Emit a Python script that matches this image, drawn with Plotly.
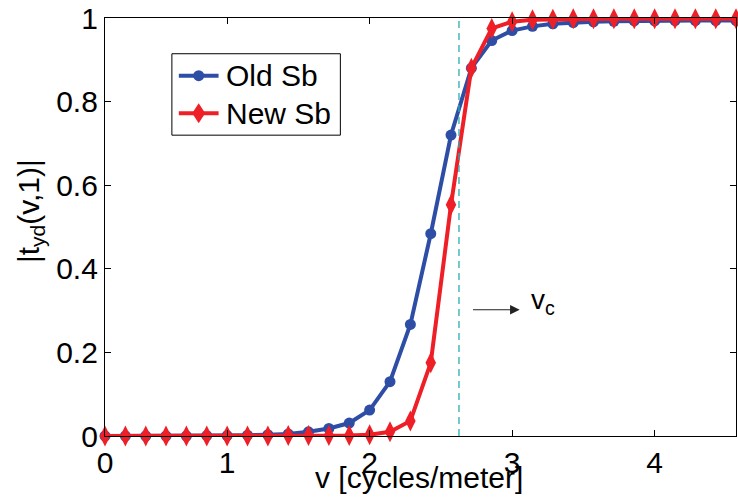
import plotly.graph_objects as go

# spatial frequency samples (cycles/meter)
freq = [0.143, 0.286, 0.429, 0.571, 0.714, 0.857, 1.0, 1.143, 1.286, 1.429,
        1.571, 1.714, 1.857, 2.0, 2.143, 2.286, 2.429, 2.571, 2.714, 2.857,
        3.0, 3.143, 3.286, 3.429, 3.571, 3.714, 3.857, 4.0, 4.143, 4.286,
        4.429, 4.571]

old_sb = [0.0, 0.0, 0.0, 0.0, 0.0, 0.001, 0.001, 0.002, 0.003, 0.005,
          0.010, 0.018, 0.031, 0.062, 0.130, 0.267, 0.484, 0.720, 0.880, 0.946,
          0.970, 0.980, 0.986, 0.989, 0.991, 0.992, 0.993, 0.993, 0.994, 0.994,
          0.994, 0.994]

new_sb = [0.0, 0.0, 0.0, 0.0, 0.0, 0.0, 0.0, 0.0, 0.0, 0.001,
          0.001, 0.001, 0.001, 0.003, 0.010, 0.036, 0.175, 0.553, 0.880, 0.975,
          0.991, 0.996, 0.997, 0.998, 0.998, 0.998, 0.998, 0.998, 0.998, 0.998,
          0.998, 0.998]

series_names = ["Old Sb", "New Sb"]

x_tick_vals = [0.143, 1, 2, 3, 4]
x_tick_text = ["0", "1", "2", "3", "4"]
y_tick_vals = [0, 0.2, 0.4, 0.6, 0.8, 1.0]
y_tick_text = ["0", "0.2", "0.4", "0.6", "0.8", "1"]

cutoff = 2.627          # v_c
arrow_from, arrow_to, arrow_y = 2.715, 3.053, 0.302

FONT = "Liberation Sans, Arial, Helvetica, sans-serif"
FS = 30
BLUE = "#2E4EA6"
RED = "#EE1F26"

fig = go.Figure()
fig.add_trace(go.Scatter(
    x=freq, y=old_sb, name=series_names[0], mode="lines+markers",
    line=dict(color=BLUE, width=4),
    marker=dict(symbol="circle", size=11, color=BLUE),
    cliponaxis=False, showlegend=False,
))
fig.add_trace(go.Scatter(
    x=freq, y=new_sb, name=series_names[1], mode="lines+markers",
    line=dict(color=RED, width=4),
    marker=dict(symbol="diamond-tall", size=15, color=RED),
    cliponaxis=False, showlegend=False,
))

# cutoff marker
fig.add_shape(type="line", x0=cutoff, x1=cutoff, y0=0, y1=1,
              xref="x", yref="y",
              line=dict(color="#28AEB2", width=1.3, dash="7px,5px"))

fig.add_annotation(x=arrow_to, y=arrow_y, ax=arrow_from, ay=arrow_y,
                   xref="x", yref="y", axref="x", ayref="y",
                   showarrow=True, arrowhead=2, arrowsize=1.6, arrowwidth=1.2,
                   arrowcolor="#222222", text="")
fig.add_annotation(x=3.12, y=0.322, xref="x", yref="y", xanchor="left",
                   yanchor="middle", showarrow=False,
                   text="v<sub>c</sub>", font=dict(family=FONT, size=28, color="black"))

# axis titles
fig.add_annotation(x=0.497, y=-0.1, xref="paper", yref="paper",
                   xanchor="center", yanchor="middle", showarrow=False,
                   text="v [cycles/meter]", font=dict(family=FONT, size=FS, color="black"))
fig.add_annotation(x=-0.118, y=0.537, xref="paper", yref="paper",
                   xanchor="center", yanchor="middle", showarrow=False, textangle=-90,
                   text="|t<sub>yd</sub>(v,1)|", font=dict(family=FONT, size=FS, color="black"))

# legend box with line + marker samples and labels
lg_x0, lg_x1, lg_y0, lg_y1 = 0.106, 0.373, 0.7197, 0.9145
row_y = [0.862, 0.772]
sample_x0, sample_x1, sample_mid = 0.117, 0.180, 0.1485
label_x = 0.188
fig.add_shape(type="rect", xref="paper", yref="paper",
              x0=lg_x0, x1=lg_x1, y0=lg_y0, y1=lg_y1,
              line=dict(color="black", width=1), fillcolor="white", layer="above")
for name, color, ry in zip(series_names, [BLUE, RED], row_y):
    fig.add_shape(type="line", xref="paper", yref="paper",
                  x0=sample_x0, x1=sample_x1, y0=ry, y1=ry,
                  line=dict(color=color, width=4), layer="above")
    fig.add_annotation(x=label_x, y=ry, xref="paper", yref="paper",
                       xanchor="left", yanchor="middle", showarrow=False,
                       text=name, font=dict(family=FONT, size=FS, color="black"))
# circle marker sample
fig.add_shape(type="circle", xref="paper", yref="paper",
              xsizemode="pixel", ysizemode="pixel",
              xanchor=sample_mid, yanchor=row_y[0],
              x0=-5.5, x1=5.5, y0=-5.5, y1=5.5,
              line=dict(color=BLUE, width=0), fillcolor=BLUE, layer="above")
# diamond marker sample
fig.add_shape(type="path", xref="paper", yref="paper",
              xsizemode="pixel", ysizemode="pixel",
              xanchor=sample_mid, yanchor=row_y[1],
              path="M 0 10 L 6.5 0 L 0 -10 L -6.5 0 Z",
              line=dict(color=RED, width=0), fillcolor=RED, layer="above")

axis_common = dict(showline=True, linecolor="black", linewidth=1.2, mirror="ticks",
                   ticks="inside", ticklen=6, tickcolor="black", tickwidth=1,
                   showgrid=False, zeroline=False, ticklabeloverflow="allow",
                   tickfont=dict(family=FONT, size=FS, color="black"))

fig.update_xaxes(range=[0.143, 4.571], tickvals=x_tick_vals, ticktext=x_tick_text,
                 ticklabelstandoff=0, **axis_common)
fig.update_yaxes(range=[0, 1], tickvals=y_tick_vals, ticktext=y_tick_text,
                 ticklabelstandoff=0, **axis_common)

fig.update_layout(
    width=738, height=500,
    margin=dict(l=105, r=1, t=15, b=64),
    plot_bgcolor="white", paper_bgcolor="white",
    font=dict(family=FONT, size=FS, color="black"),
    showlegend=False,
)

fig.write_html("out.html")
